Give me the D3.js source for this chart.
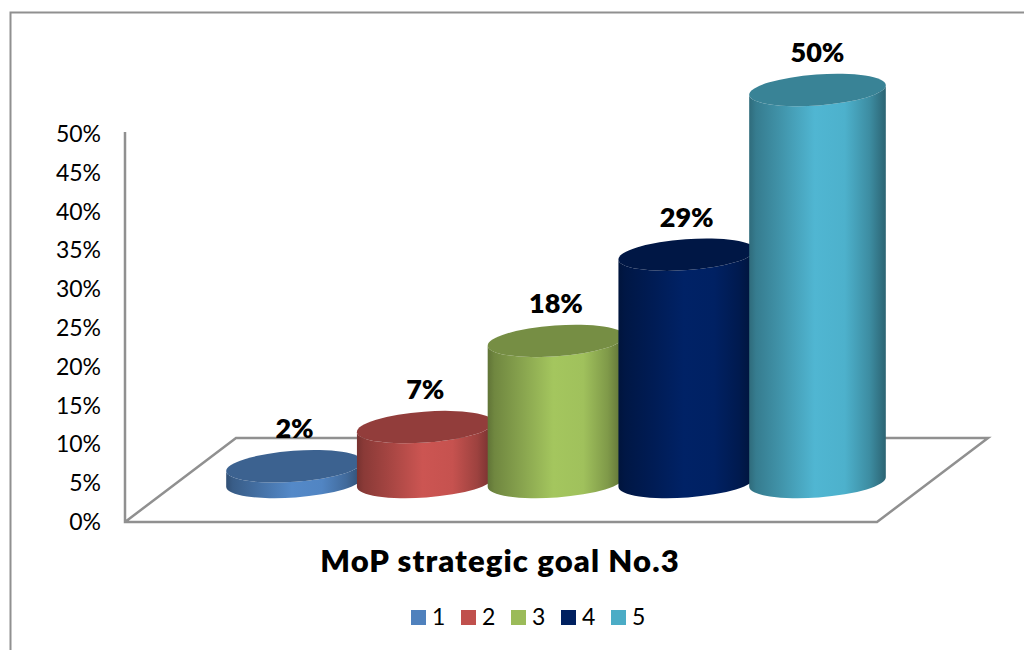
<!DOCTYPE html>
<html><head><meta charset="utf-8">
<style>html,body{margin:0;padding:0;background:#fff;overflow:hidden}svg{display:block}text{font-family:Lato,"Open Sans",sans-serif;fill:#000}</style>
<script src="https://cdn.jsdelivr.net/npm/d3@7"></script></head>
<body><svg id="c" width="1024" height="650"></svg>
<script>
const categories = ["1","2","3","4","5"];
const values = [2,7,18,29,50];
const colors = ["#4f81bd","#c0504d","#9bbb59","#002060","#4bacc6"];
const yTicks = [0,5,10,15,20,25,30,35,40,45,50];
const title = "MoP strategic goal No.3";

const svg = d3.select("#c");
const gray = "#909090";
const x = d3.scalePoint().domain(categories).range([294.5,817.5]);
const yAxisScale = d3.scaleLinear().domain([0,50]).range([521.5,133.5]);
const yBar = d3.scaleLinear().domain([0,50]).range([482,90]);
const rx = 68.5, ry = 15.5, tilt = -4.2, th = tilt*Math.PI/180;
const dx = rx*Math.cos(th), dy = rx*Math.sin(th);

// frame
svg.append("path").attr("d","M1024,12.5H10.5V650").attr("fill","none").attr("stroke",gray).attr("stroke-width",2);
// floor + wall
svg.append("path").attr("d","M125,132V522H877L988,438H236L125,522").attr("fill","none").attr("stroke",gray).attr("stroke-width",2.5);

// axis
const ax = svg.append("g").attr("transform","translate(101,0)")
  .call(d3.axisLeft(yAxisScale).tickValues(yTicks).tickSize(0).tickPadding(0).tickFormat(d=>d+"%"));
ax.select(".domain").remove();
ax.selectAll("text").style("font-family","Lato,sans-serif").style("font-size","23px").attr("fill","#000").attr("dy","0.35em");

// gradients
const defs = svg.append("defs");
categories.forEach((c,i)=>{
  const col = d3.color(colors[i]);
  const g = defs.append("linearGradient").attr("id","g"+i).attr("x1","0").attr("x2","1").attr("y1","0").attr("y2","0");
  [[0,0.62],[0.05,0.72],[0.22,0.85],[0.48,1.06],[0.7,1.03],[0.88,0.82],[1,0.58]].forEach(([o,k])=>{
    g.append("stop").attr("offset",o).attr("stop-color",d3.rgb(col.r*k,col.g*k,col.b*k).formatHex());
  });
});

// cylinders
const bars = svg.selectAll("g.bar").data(values).join("g").attr("class","bar");
bars.append("path").attr("fill",(d,i)=>`url(#g${i})`).attr("d",(d,i)=>{
  const cx=x(categories[i]), t=yBar(d), b=yBar(0);
  return `M${cx-dx},${t-dy}L${cx-dx},${b-dy}A${rx},${ry} ${tilt} 0 0 ${cx+dx},${b+dy}L${cx+dx},${t+dy}A${rx},${ry} ${tilt} 0 1 ${cx-dx},${t-dy}Z`;
});
bars.append("ellipse").attr("rx",rx).attr("ry",ry)
  .attr("transform",(d,i)=>`translate(${x(categories[i])},${yBar(d)}) rotate(${tilt})`)
  .attr("fill",(d,i)=>{const c=d3.color(colors[i]);const k=i==3?0.72:0.76;return d3.rgb(c.r*k,c.g*k,c.b*k).formatHex();});

// data labels
svg.selectAll("text.lab").data(values).join("text").attr("class","lab")
  .attr("x",(d,i)=>x(categories[i])).attr("y",d=>yBar(d)-28)
  .attr("text-anchor","middle").style("font-size","27px").style("font-weight","800").text(d=>d+"%");

// title
svg.append("text").attr("x",500).attr("y",572).attr("text-anchor","middle")
  .style("font-size","31px").style("font-weight","800").style("letter-spacing","1.1px").text(title);

// legend
const lx = d3.scalePoint().domain(categories).range([411,611]);
categories.forEach((c,i)=>{
  svg.append("rect").attr("x",lx(c)).attr("y",610).attr("width",15).attr("height",15).attr("fill",colors[i]);
  svg.append("text").attr("x",lx(c)+21).attr("y",625).style("font-size","23px").text(c);
});
</script></body></html>
